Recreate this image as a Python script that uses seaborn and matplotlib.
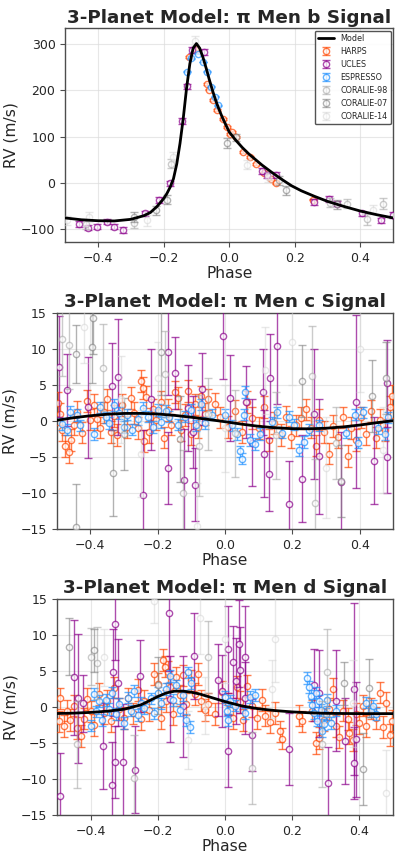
import numpy as np
import pandas as pd
import matplotlib
matplotlib.use("Agg")
import matplotlib.pyplot as plt
import seaborn as sns

# Instruments, in legend order
instruments = ["HARPS", "UCLES", "ESPRESSO", "CORALIE-98", "CORALIE-07", "CORALIE-14"]
inst_colors = {"HARPS": "#FF4500", "UCLES": "#8B008B", "ESPRESSO": "#1E90FF",
               "CORALIE-98": "#A9A9A9", "CORALIE-07": "#808080", "CORALIE-14": "#D3D3D3"}
inst_alpha = {"HARPS": 0.7, "UCLES": 0.7, "ESPRESSO": 0.7,
              "CORALIE-98": 0.6, "CORALIE-07": 0.6, "CORALIE-14": 0.5}

# ---------------- pi Men b ----------------
b_model_phase = [-0.50, -0.45, -0.40, -0.35, -0.30, -0.26, -0.24, -0.22, -0.20, -0.19, -0.18,
                 -0.17, -0.16, -0.15, -0.14, -0.13, -0.12, -0.11, -0.10, -0.09, -0.08, -0.07,
                 -0.06, -0.05, -0.04, -0.03, -0.02, -0.01, 0.00, 0.02, 0.04, 0.06, 0.08, 0.10,
                 0.13, 0.16, 0.19, 0.22, 0.26, 0.30, 0.35, 0.40, 0.45, 0.50]
b_model_rv = [-77, -81, -83, -83.5, -80, -72, -65, -52, -35, -24, -10,
              8, 40, 85, 140, 205, 258, 292, 302, 292, 272, 248,
              222, 198, 176, 157, 140, 125, 110, 92, 76, 62, 50, 38,
              22, 7, -7, -18, -30, -41, -52, -62, -70, -77]

b_harps = [(-0.123, 272, 2), (-0.10, 291, 2), (-0.069, 215, 2), (-0.061, 202, 2),
           (-0.049, 179, 2), (-0.037, 157, 2), (-0.020, 138, 2), (-0.008, 121, 2),
           (0.002, 105, 2), (0.008, 110, 2), (0.022, 99, 2), (0.043, 67, 2),
           (0.063, 56, 2), (0.083, 40, 2), (0.106, 20, 2), (0.126, 7, 2),
           (0.144, -2, 2), (0.256, -37, 2)]
b_ucles = [(-0.457, -90.6, 6), (-0.43, -98, 6), (-0.402, -96, 6), (-0.374, -85, 6),
           (-0.351, -96, 6), (-0.325, -103.6, 6), (-0.258, -67, 6), (-0.213, -38, 6),
           (-0.181, -2, 6), (-0.145, 134, 6), (-0.128, 209, 6), (-0.114, 288, 6),
           (-0.077, 284, 6), (0.099, 25, 6), (0.114, 16, 6), (0.144, 16, 6),
           (0.26, -42, 6), (0.305, -35.5, 6), (0.329, -45.6, 6), (0.404, -67, 6),
           (0.464, -82, 6), (0.498, -70, 6)]
b_espresso = [(-0.130, 241, 1), (-0.115, 270, 1), (-0.095, 280, 1), (-0.079, 262, 1),
              (-0.067, 241, 1), (-0.055, 208, 1), (-0.044, 186, 1), (-0.034, 168, 1)]
b_cor98 = [(-0.437, -90, 10), (-0.29, -88, 10), (-0.176, 41, 10), (0.307, -44, 10),
           (0.358, -46, 10), (0.419, -80, 12), (0.469, -46, 12)]
b_cor07 = [(-0.291, -75, 10), (-0.222, -60, 10), (-0.191, -37, 10), (-0.008, 86, 10),
           (0.022, 98, 8), (0.152, 5, 10), (0.173, -17, 10), (0.329, -47, 10)]
b_cor14 = [(-0.496, -82, 10), (-0.427, -75, 10), (-0.252, -82, 12), (-0.171, 56, 10),
           (-0.104, 308, 10), (0.053, 39, 10), (0.119, 12, 10), (0.437, -59, 10)]

# ---------------- pi Men c ----------------
c_model_phase = [-0.50, -0.45, -0.40, -0.35, -0.30, -0.25, -0.20, -0.15, -0.10, -0.05, 0.00,
                 0.05, 0.10, 0.15, 0.20, 0.25, 0.30, 0.35, 0.40, 0.45, 0.50]
c_model_rv = [0.10, 0.45, 0.73, 0.94, 1.05, 1.06, 0.97, 0.78, 0.52, 0.22, -0.10,
              -0.44, -0.73, -0.94, -1.06, -1.08, -1.00, -0.82, -0.56, -0.24, 0.05]

c_harps = [(-0.495, 2.5, 1.5), (-0.49, 1.0, 1.5), (-0.485, -1.2, 1.5), (-0.475, -3.5, 1.5),
           (-0.465, -4.3, 1.5), (-0.458, -2.6, 1.5), (-0.45, -0.5, 1.5), (-0.44, 1.3, 1.5),
           (-0.425, -1.6, 1.5), (-0.41, 2.8, 1.5), (-0.40, 0.2, 1.5), (-0.39, 2.2, 1.5),
           (-0.38, 0.3, 1.5), (-0.37, -0.9, 1.5), (-0.36, 1.2, 1.5), (-0.35, 3.0, 1.5),
           (-0.34, -1.5, 1.5), (-0.33, 0.7, 1.5), (-0.32, -1.9, 1.5), (-0.305, 2.2, 1.5),
           (-0.29, -0.8, 1.5), (-0.28, 3.2, 1.5), (-0.27, 1.1, 1.5), (-0.26, -1.0, 1.5),
           (-0.25, 5.5, 1.5), (-0.245, 4.6, 1.5), (-0.24, -2.8, 1.5), (-0.235, 3.3, 1.5),
           (-0.225, -1.5, 1.5), (-0.215, 1.6, 1.5), (-0.205, 0.2, 1.5), (-0.19, 2.6, 1.5),
           (-0.18, -2.3, 1.5), (-0.17, 1.5, 1.5), (-0.16, -0.5, 1.5), (-0.15, 4.0, 1.5),
           (-0.14, 3.2, 1.5), (-0.13, -1.3, 1.5), (-0.12, 0.8, 1.5), (-0.11, 4.2, 1.5),
           (-0.10, -1.8, 1.5), (-0.09, 2.3, 1.5), (-0.08, -0.8, 1.5), (-0.07, 3.4, 1.5),
           (-0.06, 1.0, 1.5), (-0.05, 3.0, 1.5), (-0.03, 2.4, 1.5), (-0.015, 0.5, 1.5),
           (0.01, -0.8, 1.5), (0.03, 1.4, 1.5), (0.05, -1.5, 1.5), (0.065, 2.6, 1.5),
           (0.08, 0.4, 1.5), (0.10, -1.0, 1.5), (0.115, 1.9, 1.5), (0.13, -2.6, 1.5),
           (0.145, -0.3, 1.5), (0.165, -1.9, 1.5), (0.18, 0.6, 1.5), (0.195, -2.2, 1.5),
           (0.21, -0.6, 1.5), (0.225, 0.4, 1.5), (0.24, 1.6, 1.5), (0.255, -0.9, 1.5),
           (0.27, -3.4, 1.5), (0.28, 0.2, 1.5), (0.295, -1.5, 1.5), (0.31, -4.5, 1.5),
           (0.32, -0.7, 1.5), (0.335, -2.2, 1.5), (0.35, 0.5, 1.5), (0.365, -4.8, 1.5),
           (0.375, -1.0, 1.5), (0.39, -2.6, 1.5), (0.405, 0.5, 1.5), (0.42, -1.8, 1.5),
           (0.435, 1.4, 1.5), (0.45, -2.3, 1.5), (0.46, 0.2, 1.5), (0.475, -1.2, 1.5),
           (0.49, 1.9, 1.5), (0.497, 3.5, 1.5)]
c_ucles = [(-0.492, 7.5, 7), (-0.47, 4.3, 5), (-0.408, 1.9, 7), (-0.335, 4.8, 6),
           (-0.319, 6.1, 8), (-0.245, -10.2, 9), (-0.22, 3.0, 7), (-0.168, 9.6, 6),
           (-0.17, -6.5, 5), (-0.15, 6.7, 5), (-0.123, -8.1, 7), (-0.111, 1.8, 6),
           (-0.095, -1.5, 5), (-0.089, -8.8, 5), (-0.067, 4.4, 5), (-0.007, 11.8, 6),
           (0.015, 3.2, 6), (0.062, 2.6, 5), (0.08, -3.0, 6), (0.114, 4.0, 6),
           (0.117, -4.5, 6), (0.13, -7.4, 5), (0.134, 6.0, 6), (0.155, 10.4, 8),
           (0.19, -11.5, 6), (0.23, -8.0, 6), (0.265, 1.0, 9), (0.279, -4.9, 8),
           (0.344, -8.5, 7), (0.389, 2.7, 12), (0.444, -5.5, 6), (0.48, -5.0, 5),
           (0.482, 5.2, 6)]
c_espresso = [(-0.485, -0.4, 0.8), (-0.47, -1.2, 0.8), (-0.46, 1.3, 0.8), (-0.44, 0.8, 0.8),
              (-0.43, -0.6, 0.8), (-0.39, -1.8, 0.8), (-0.37, 1.9, 0.8), (-0.355, 0.5, 0.8),
              (-0.345, -0.3, 0.8), (-0.33, 2.2, 0.8), (-0.315, 1.1, 0.8), (-0.30, -0.8, 0.8),
              (-0.29, 0.9, 0.8), (-0.275, -1.2, 0.8), (-0.26, 0.3, 0.8), (-0.245, 1.8, 0.8),
              (-0.23, 0.6, 0.8), (-0.215, -0.8, 0.8), (-0.20, 1.5, 0.8), (-0.19, -0.2, 0.8),
              (-0.175, 1.4, 0.8), (-0.165, 0.6, 0.8), (-0.14, -0.5, 0.8), (-0.12, 0.6, 0.8),
              (-0.10, 1.5, 0.8), (-0.085, -0.6, 0.8), (-0.07, 2.3, 0.8), (-0.06, -0.3, 0.8),
              (-0.04, 0.9, 0.8), (0.0, 0.8, 0.8), (0.02, -0.6, 0.8), (0.035, -1.8, 0.8),
              (0.045, -4.2, 0.8), (0.05, -5.2, 0.8), (0.055, 0.9, 0.8), (0.06, 4.0, 0.8),
              (0.075, -2.6, 0.8), (0.09, -3.2, 0.8), (0.105, -1.8, 0.8), (0.14, -0.2, 0.8),
              (0.155, 1.2, 0.8), (0.17, -1.6, 0.8), (0.19, 0.6, 0.8), (0.205, -0.5, 0.8),
              (0.22, -4.0, 0.8), (0.235, -2.9, 0.8), (0.25, -1.2, 0.8), (0.28, -0.6, 0.8),
              (0.36, -1.6, 0.8), (0.385, 0.9, 0.8), (0.395, -3.0, 0.8), (0.41, 1.2, 0.8),
              (0.455, -1.0, 0.8), (0.475, -1.8, 0.8), (0.485, 0.5, 0.8)]
c_cor98 = [(-0.485, 11.3, 5), (-0.465, 10.5, 6), (-0.363, 7.4, 6), (-0.178, 6.5, 6),
           (-0.124, -10.0, 6), (-0.076, -3.4, 7), (-0.05, 1.0, 5), (0.03, -1.7, 6),
           (0.15, -2.0, 6), (0.257, 6.2, 7), (0.267, -11.3, 6), (0.33, -3.0, 5)]
c_cor07 = [(-0.442, 9.3, 4), (-0.443, -14.7, 6), (-0.393, 14.3, 5), (-0.394, 10.3, 5),
           (-0.334, -7.2, 6), (-0.30, -1.8, 5), (-0.19, 9.6, 6), (-0.134, -2.5, 6),
           (0.228, 5.5, 5), (0.344, -8.3, 5), (0.436, 3.5, 5), (0.477, 6.0, 5)]
c_cor14 = [(-0.42, 13.0, 5), (-0.31, 3.0, 6), (-0.25, -4.5, 6), (-0.20, 6.0, 5),
           (-0.084, -14.6, 6), (0.0, -1.0, 6), (0.12, 7.0, 6), (0.20, 11.0, 6),
           (0.30, -6.5, 7), (0.40, 10.0, 6), (0.47, -4.0, 6)]

# ---------------- pi Men d ----------------
d_model_phase = [-0.50, -0.45, -0.40, -0.35, -0.30, -0.25, -0.20, -0.175, -0.15, -0.125,
                 -0.10, -0.075, -0.05, -0.025, 0.00, 0.05, 0.10, 0.15, 0.20, 0.25, 0.30,
                 0.40, 0.50]
d_model_rv = [-0.90, -0.85, -0.75, -0.58, -0.30, 0.30, 1.45, 1.95, 2.20, 2.20,
              2.05, 1.80, 1.45, 1.10, 0.75, 0.15, -0.25, -0.50, -0.68, -0.80, -0.88,
              -0.92, -0.92]

d_harps = [(-0.495, -2.0, 1.5), (-0.49, 1.2, 1.5), (-0.48, -2.6, 1.5), (-0.47, -0.5, 1.5),
           (-0.46, -1.8, 1.5), (-0.45, 0.2, 1.5), (-0.44, -2.9, 1.5), (-0.43, -4.0, 1.5),
           (-0.42, -1.6, 1.5), (-0.41, 1.1, 1.5), (-0.40, -0.6, 1.5), (-0.39, -2.5, 1.5),
           (-0.375, 1.8, 1.5), (-0.36, -0.8, 1.5), (-0.35, 0.9, 1.5), (-0.34, -2.0, 1.5),
           (-0.33, 2.7, 1.5), (-0.315, -0.3, 1.5), (-0.30, -1.5, 1.5), (-0.29, 1.2, 1.5),
           (-0.275, -0.9, 1.5), (-0.26, 2.4, 1.5), (-0.25, -1.7, 1.5), (-0.24, 0.8, 1.5),
           (-0.225, -0.4, 1.5), (-0.21, 4.6, 1.5), (-0.20, 3.2, 1.5), (-0.19, -1.5, 1.5),
           (-0.185, 6.5, 1.5), (-0.18, 5.6, 1.5), (-0.175, 0.8, 1.5), (-0.17, 4.9, 1.5),
           (-0.165, 2.8, 1.5), (-0.155, -1.0, 1.5), (-0.145, 4.1, 1.5), (-0.135, 1.6, 1.5),
           (-0.125, 4.4, 1.5), (-0.115, 0.4, 1.5), (-0.10, 3.7, 1.5), (-0.09, 1.8, 1.5),
           (-0.08, 4.6, 1.5), (-0.07, 0.9, 1.5), (-0.06, -0.4, 1.5), (-0.05, 0.4, 1.5),
           (-0.03, -1.0, 1.5), (-0.01, 2.1, 1.5), (0.01, 0.5, 1.5), (0.025, -1.5, 1.5),
           (0.035, 2.8, 1.5), (0.045, 0.7, 1.5), (0.055, -1.8, 1.5), (0.065, 2.9, 1.5),
           (0.08, 0.1, 1.5), (0.095, -1.5, 1.5), (0.11, 1.0, 1.5), (0.12, -1.2, 1.5),
           (0.135, -2.1, 1.5), (0.15, -0.8, 1.5), (0.165, -3.4, 1.5), (0.17, -4.4, 1.5),
           (0.22, -1.2, 1.5), (0.23, -2.0, 1.5), (0.26, -0.5, 1.5), (0.27, -5.0, 1.5),
           (0.28, -4.3, 1.5), (0.295, -1.8, 1.5), (0.31, -0.3, 1.5), (0.32, 2.5, 1.5),
           (0.33, -2.6, 1.5), (0.34, -4.2, 1.5), (0.35, -0.5, 1.5), (0.365, -1.7, 1.5),
           (0.37, -3.6, 1.5), (0.38, -4.6, 1.5), (0.39, -1.0, 1.5), (0.40, -2.2, 1.5),
           (0.41, 0.2, 1.5), (0.42, -2.6, 1.5), (0.435, -0.2, 1.5), (0.45, -1.5, 1.5),
           (0.46, 2.0, 1.5), (0.47, -2.8, 1.5), (0.48, 0.6, 1.5), (0.49, -3.9, 1.5),
           (0.497, -1.9, 1.5)]
d_ucles = [(-0.492, -12.4, 6), (-0.45, 4.1, 8), (-0.438, 1.2, 9), (-0.423, 0.5, 4),
           (-0.363, -5.4, 6), (-0.335, -10.8, 6), (-0.332, 4.8, 6), (-0.327, 11.5, 5),
           (-0.327, -7.7, 5), (-0.317, 3.4, 6), (-0.304, -7.6, 8), (-0.269, -8.7, 6),
           (-0.254, 4.3, 5), (-0.168, 13.0, 8), (-0.165, 1.1, 6), (-0.124, 0.1, 7),
           (-0.091, 7.1, 6), (-0.02, 3.7, 5), (-0.01, 2.2, 5), (0.008, -6.1, 5),
           (0.010, 8.0, 6), (0.025, 6.2, 5), (0.033, 3.6, 6), (0.043, 8.8, 6),
           (0.045, 5.1, 6), (0.06, 7.0, 7), (0.06, 1.2, 5), (0.081, -3.9, 5),
           (0.19, -5.8, 5), (0.264, 3.1, 5), (0.279, 1.9, 6), (0.307, -10.5, 5),
           (0.33, 0.9, 7), (0.356, -4.7, 6), (0.383, -7.8, 5), (0.384, 2.5, 12),
           (0.391, -4.5, 8)]
d_espresso = [(-0.40, -2.6, 0.8), (-0.39, 1.8, 0.8), (-0.385, -0.6, 0.8), (-0.375, 0.8, 0.8),
              (-0.365, -1.8, 0.8), (-0.355, 1.0, 0.8), (-0.345, -0.3, 0.8), (-0.335, 2.0, 0.8),
              (-0.325, -1.0, 0.8), (-0.315, 0.4, 0.8), (-0.30, -2.2, 0.8), (-0.29, 1.3, 0.8),
              (-0.28, -0.5, 0.8), (-0.27, 2.2, 0.8), (-0.26, -1.1, 0.8), (-0.25, 0.6, 0.8),
              (-0.24, -0.2, 0.8), (-0.22, 1.2, 0.8), (-0.21, -0.9, 0.8), (-0.20, 2.0, 0.8),
              (-0.19, 0.5, 0.8), (-0.175, 2.5, 0.8), (-0.165, 4.3, 0.8), (-0.155, 1.0, 0.8),
              (-0.145, 3.0, 0.8), (-0.135, -0.4, 0.8), (-0.125, 1.6, 0.8), (-0.115, -1.8, 0.8),
              (-0.11, 4.8, 0.8), (-0.105, -2.8, 0.8), (-0.10, 3.3, 0.8), (0.0, 1.4, 0.8),
              (0.005, -0.5, 0.8), (0.01, -1.8, 0.8), (0.015, 0.8, 0.8), (0.03, 0.2, 0.8),
              (0.06, -0.9, 0.8), (0.075, 1.4, 0.8), (0.09, 1.7, 0.8), (0.245, 4.0, 0.8),
              (0.25, 2.8, 0.8), (0.255, 1.5, 0.8), (0.26, 0.3, 0.8), (0.265, -0.8, 0.8),
              (0.27, 2.0, 0.8), (0.275, -1.9, 0.8), (0.28, 0.8, 0.8), (0.285, -0.4, 0.8),
              (0.29, -3.4, 0.8), (0.295, -2.4, 0.8), (0.30, -1.0, 0.8), (0.305, 1.0, 0.8),
              (0.315, -2.2, 0.8), (0.33, -0.5, 0.8), (0.42, 0.6, 0.8), (0.435, -0.6, 0.8),
              (0.44, 0.2, 0.8), (0.45, -1.0, 0.8)]
d_cor98 = [(-0.44, -5.2, 6), (-0.40, 7.0, 4), (-0.38, 6.1, 5), (-0.27, -9.9, 6),
           (-0.05, 7.0, 5), (0.08, -8.5, 5), (0.29, -5.1, 6), (0.305, 4.8, 6)]
d_cor07 = [(-0.465, 8.4, 4), (-0.39, 7.9, 3), (-0.20, 3.0, 4), (0.355, 3.3, 3),
           (0.41, -8.6, 5), (0.43, 2.6, 4)]
d_cor14 = [(-0.36, 6.9, 4), (-0.21, 14.7, 3), (-0.11, -4.6, 4), (-0.075, 12.4, 5),
           (-0.06, 0.2, 4), (0.0, 9.4, 6), (0.14, 2.5, 4), (0.15, 9.5, 6),
           (0.38, 0.5, 6), (0.48, -12.0, 6)]


def to_frame(rows):
    # transforme une liste (phase, rv, err) en DataFrame
    return pd.DataFrame(rows, columns=["phase", "rv", "err"])


def draw_panel(ax, title, model_phase, model_rv, data, ylim, yticks, show_legend=False):
    sns.lineplot(x=model_phase, y=model_rv, color="black", linewidth=2,
                 label="Model", ax=ax, zorder=20, sort=False)
    for k, name in enumerate(instruments):
        df = to_frame(data[name])
        ax.errorbar(df["phase"], df["rv"], yerr=df["err"], fmt="o",
                    color=inst_colors[name], mfc="white", mec=inst_colors[name],
                    ms=4.5, mew=1.0, elinewidth=1.0, capsize=3,
                    alpha=inst_alpha[name], label=name, zorder=5 + k)
    ax.set_xlim(-0.5, 0.5)
    ax.set_ylim(*ylim)
    ax.set_xticks([-0.4, -0.2, 0.0, 0.2, 0.4])
    ax.set_yticks(yticks)
    ax.tick_params(labelsize=9, length=3.5, width=0.8, color="0.3")
    ax.set_xlabel("Phase", fontsize=11.2, labelpad=1)
    ax.set_ylabel("RV (m/s)", fontsize=11.2, labelpad=2)
    ax.set_title(title, fontsize=13.2, fontweight="bold", pad=4)
    ax.grid(True, color="#dddddd", linewidth=0.8, alpha=0.7)
    for sp in ax.spines.values():
        sp.set_color("0.3")
        sp.set_linewidth(1.0)
    if show_legend:
        handles, labels = ax.get_legend_handles_labels()
        order = [labels.index("Model")] + [labels.index(n) for n in instruments]
        ax.legend([handles[i] for i in order], [labels[i] for i in order],
                  loc="upper right", fontsize=5.8, frameon=True, edgecolor="0.25",
                  framealpha=0.9, borderaxespad=0.3)
    elif ax.get_legend() is not None:
        ax.get_legend().remove()


sns.set_style("ticks")
plt.rcParams["font.family"] = ["DejaVu Sans"]

fig = plt.figure(figsize=(4.0, 8.6), dpi=100)
ax_b = fig.add_axes([0.163, 0.7182, 0.820, 0.2488])
ax_c = fig.add_axes([0.1418, 0.3845, 0.8415, 0.2519])
ax_d = fig.add_axes([0.1425, 0.0523, 0.8400, 0.2512])

data_b = {"HARPS": b_harps, "UCLES": b_ucles, "ESPRESSO": b_espresso,
          "CORALIE-98": b_cor98, "CORALIE-07": b_cor07, "CORALIE-14": b_cor14}
data_c = {"HARPS": c_harps, "UCLES": c_ucles, "ESPRESSO": c_espresso,
          "CORALIE-98": c_cor98, "CORALIE-07": c_cor07, "CORALIE-14": c_cor14}
data_d = {"HARPS": d_harps, "UCLES": d_ucles, "ESPRESSO": d_espresso,
          "CORALIE-98": d_cor98, "CORALIE-07": d_cor07, "CORALIE-14": d_cor14}

draw_panel(ax_b, "3-Planet Model: π Men b Signal", b_model_phase, b_model_rv, data_b,
           (-130, 335), [-100, 0, 100, 200, 300], show_legend=True)
draw_panel(ax_c, "3-Planet Model: π Men c Signal", c_model_phase, c_model_rv, data_c,
           (-15, 15), [-15, -10, -5, 0, 5, 10, 15])
draw_panel(ax_d, "3-Planet Model: π Men d Signal", d_model_phase, d_model_rv, data_d,
           (-15, 15), [-15, -10, -5, 0, 5, 10, 15])

fig.savefig("out.png", dpi=100)
